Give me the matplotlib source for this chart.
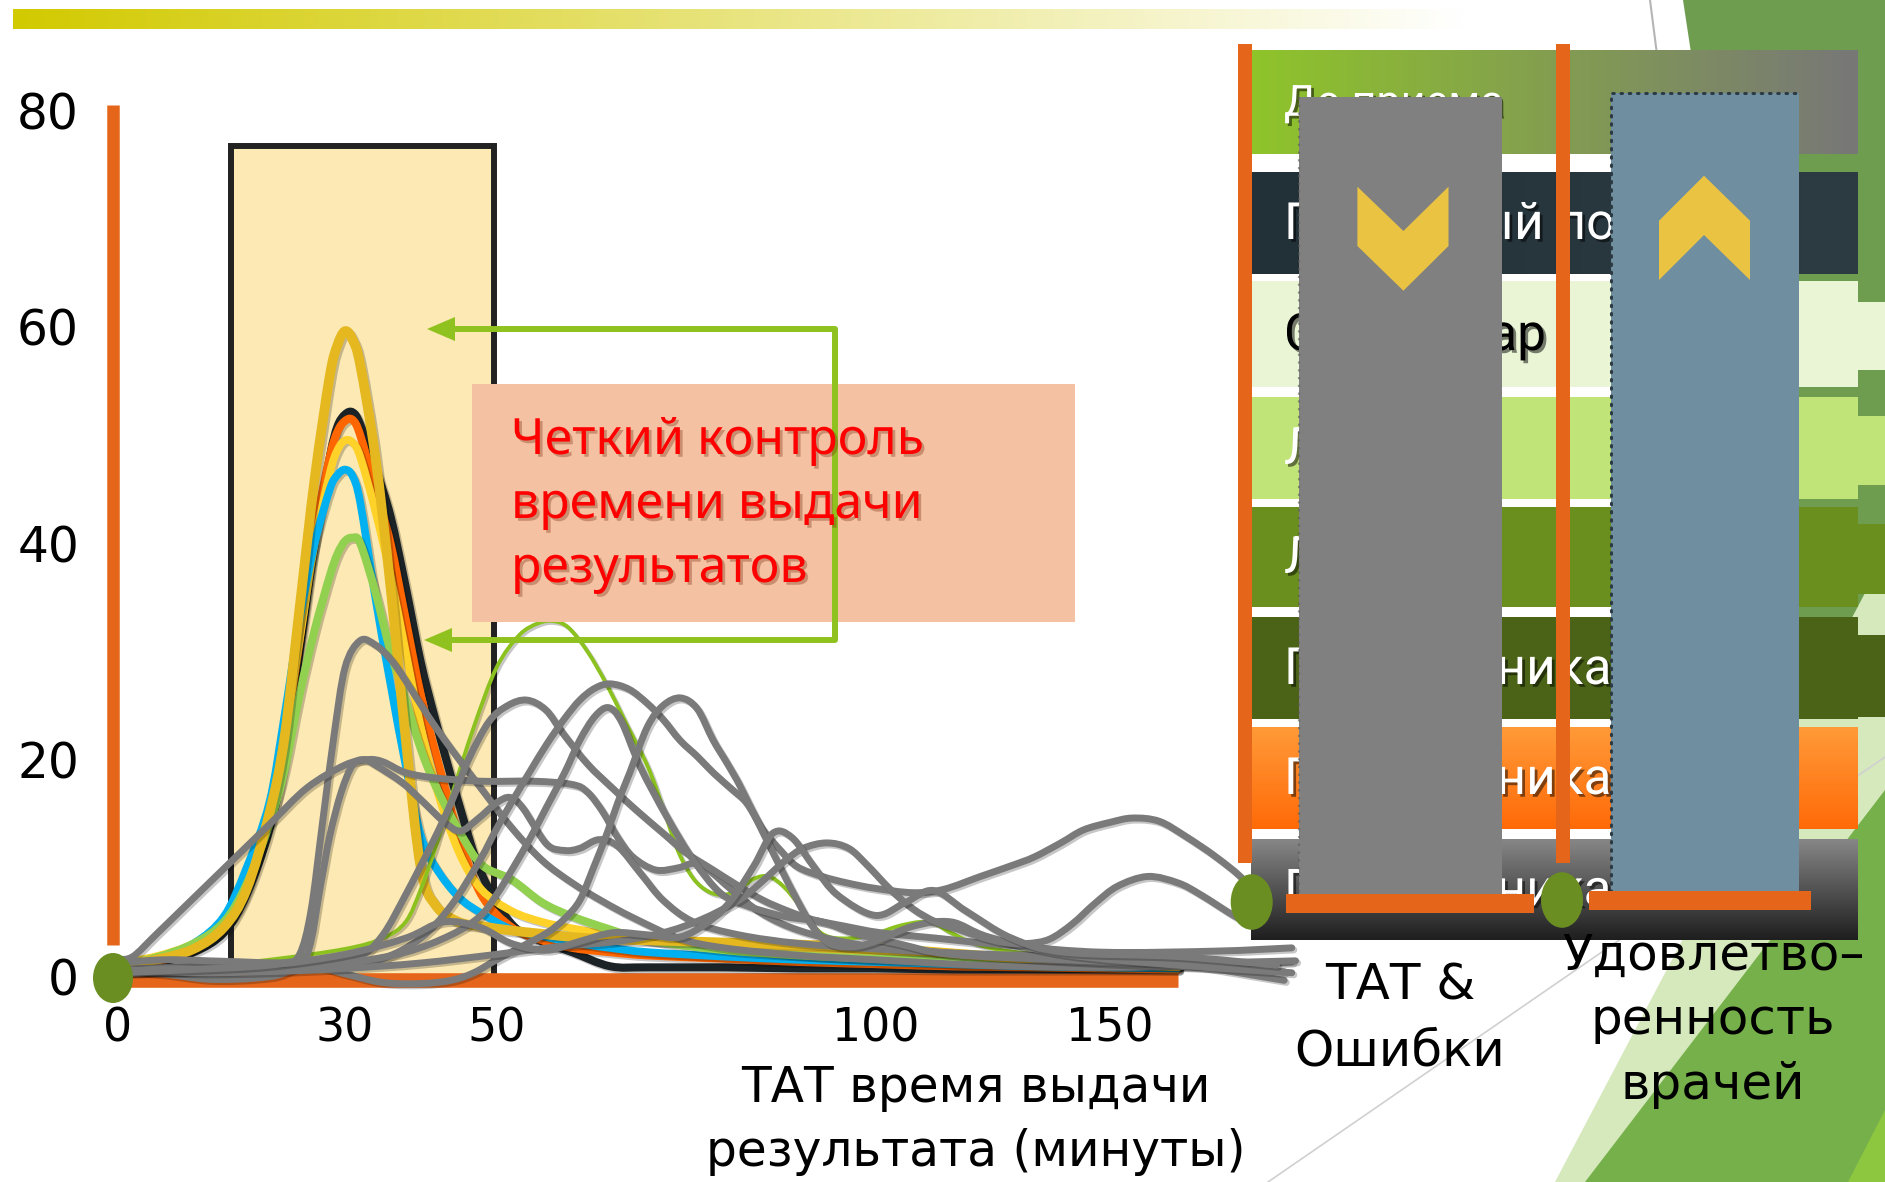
import matplotlib
matplotlib.use("Agg")
import matplotlib.pyplot as plt
import matplotlib.colors as mcolors
import matplotlib.patheffects as pe
from matplotlib.patches import Rectangle, Ellipse, Polygon, PathPatch
from matplotlib.path import Path
import numpy as np

plt.rcParams['font.family'] = ['DejaVu Sans']

# ---------------- data ----------------
y_ticks = [0, 20, 40, 60, 80]
x_tick_pos = [0, 30, 50, 100, 131]
x_tick_labels = ["0", "30", "50", "100", "150"]

target_window = (14.9, 49.7)   # minutes, highlighted TAT window
target_top = 76.7

# well controlled labs (common time grid, minutes)
tat_min = [0, 5, 10, 14, 17, 20, 22, 24, 26, 28, 29, 30, 31, 32, 34, 36, 38, 40,
           42, 45, 48, 52, 56, 60, 65, 70, 80, 90, 100, 110, 120, 130, 140]
gold_pct = [1.0, 1.5, 2.5, 4.5, 8.0, 15.0, 22.0, 34.0, 46.0, 55.5, 58.3, 59.6, 58.8, 56.5, 48.0, 36.0, 22.0, 10.0,
            6.5, 5.0, 4.6, 4.2, 3.9, 3.6, 3.4, 3.3, 3.1, 2.9, 2.6, 2.1, 1.6, 1.2, 0.9]
black_pct = [0.8, 1.2, 2.2, 4.0, 7.5, 13.5, 20.0, 30.0, 40.0, 48.0, 50.8, 51.9, 52.1, 51.0, 47.0, 42.5, 36.0, 29.0,
             23.5, 16.0, 9.5, 4.8, 3.2, 2.2, 0.9, 0.8, 0.8, 0.7, 0.7, 0.6, 0.6, 0.6, 0.6]
orange_pct = [0.7, 1.3, 2.5, 4.5, 8.5, 15.0, 21.5, 31.0, 41.0, 48.0, 50.3, 51.3, 51.4, 50.0, 45.0, 40.0, 33.0, 26.0,
              20.5, 13.0, 7.5, 4.5, 3.3, 2.6, 2.2, 1.9, 1.6, 1.3, 1.1, 0.9, 0.8, 0.7, 0.6]
yellow_pct = [1.2, 1.8, 3.0, 5.0, 9.0, 15.5, 22.0, 31.0, 40.0, 46.5, 48.6, 49.5, 49.3, 48.0, 43.0, 37.0, 30.0, 23.0,
              17.5, 11.5, 8.0, 6.0, 5.0, 4.4, 3.8, 3.3, 2.7, 2.3, 2.0, 1.7, 1.4, 1.1, 0.9]
blue_pct = [0.9, 1.5, 3.0, 5.5, 10.0, 16.0, 24.0, 33.0, 40.0, 45.0, 46.3, 46.8, 46.2, 43.8, 35.0, 27.0, 19.5, 13.0,
            10.0, 7.3, 5.8, 4.3, 3.7, 3.1, 2.6, 2.2, 1.8, 1.5, 1.3, 1.1, 0.9, 0.8, 0.7]
lgreen_pct = [1.0, 1.7, 3.0, 5.0, 8.5, 14.0, 19.0, 26.0, 32.0, 37.0, 39.0, 40.2, 40.5, 40.0, 35.5, 30.0, 25.5, 21.0,
              17.5, 13.5, 10.3, 8.9, 6.8, 5.5, 4.3, 3.3, 2.4, 1.9, 1.6, 1.4, 1.2, 1.0, 0.9]

# lab with the later peak (thin green)
late_min = [0, 10, 20, 30, 35, 38, 40, 42, 44, 47, 50, 53, 55.5, 57.5, 59.5, 62, 64.5, 67, 70, 72, 74, 76, 78,
            80, 82, 84, 86, 88, 90, 92, 94, 97, 100, 103, 106, 108, 110, 114, 120, 130, 140]
late_pct = [0.5, 0.8, 1.5, 2.5, 3.5, 5, 8, 12, 16.5, 23, 28.5, 31.5, 32.6, 32.8, 32.2, 30, 27, 23.5, 19.3, 15.5, 11.5,
            9, 7.8, 7.5, 8, 9, 9.2, 8.2, 6.5, 4.5, 3.6, 3.5, 3.9, 4.6, 5, 4.8, 4, 2.8, 2.1, 1.7, 1.5]

# uncontrolled labs (grey)
g1_min = [0, 8, 16, 22, 24, 25.5, 27, 28.5, 30, 32, 34, 36, 38, 41, 44, 48, 52, 56, 60, 64, 68, 74, 80, 90, 100,
          114, 130, 145, 155]
g1_pct = [0.3, 0.5, 0.8, 1.2, 2, 6, 14, 22, 28.5, 31, 30.6, 29.3, 27.3, 24, 21, 17.3, 13.7, 10.7, 8.6, 6.9, 5.4,
          3.5, 2.6, 1.9, 1.5, 1.0, 0.8, 1.0, 1.3]
g2_min = [0, 2, 5, 10, 15, 20, 25, 30, 33, 35, 38, 42, 48, 55, 60, 62, 64, 66, 68, 71, 74, 76, 78, 81, 85, 90, 97,
          105, 120, 140, 154]
g2_pct = [1.5, 1.8, 3.8, 7.2, 10.6, 14, 17.4, 19.5, 20, 19.8, 18.8, 18.3, 18, 18, 17.7, 17, 15.2, 12.8, 11, 9.8,
          10, 10.4, 9.8, 8, 5.8, 4.2, 3, 2.4, 1.6, 0.9, 0.4]
g3_min = [0, 6, 12, 18, 22, 25, 26.8, 28, 29.5, 31, 32.5, 34, 37.5, 40, 43, 45.2, 47.5, 50, 51.8, 53.5, 56.6, 59,
          61, 63.5, 66, 69, 72, 76, 82, 90, 100, 115, 135, 154]
g3_pct = [0.5, 0.2, -0.3, -0.2, 0.3, 2, 8.5, 13, 17, 19.5, 20, 19.5, 17.9, 16.3, 14.3, 13.4, 14.5, 16, 16.5, 15.5,
          12.2, 11.6, 11.8, 12.6, 12, 9.5, 7, 5, 3.8, 3, 2.5, 2, 1.6, -0.4]
g4_min = [0, 10, 20, 28, 32, 35, 38, 41.6, 44, 46.3, 49, 51.5, 54, 56.5, 58.8, 62, 65.4, 68.5, 72, 75, 78.6, 82,
          85.2, 88.5, 91.8, 96, 100.7, 108, 118, 130, 145, 155]
g4_pct = [0.6, 0.9, 1.2, 1.3, 1.8, 3.8, 7.5, 12.4, 16, 20, 23.5, 25, 25.5, 24.6, 22.4, 19.6, 17.3, 15.3, 13.2, 11.4,
          9.8, 8.3, 7, 6, 5.2, 4.6, 4, 3.5, 2.8, 2.2, 2.3, 2.6]
g5_min = [0, 10, 20, 30, 35, 40, 44, 47.8, 50, 52.2, 54.5, 56.7, 59, 61, 63, 65, 67.5, 69.9, 72, 74.2, 76.5, 78.6,
          81, 83, 85.2, 87.5, 89.7, 93, 96.3, 100, 105, 109, 113.9, 118, 121, 124.5, 127.5, 131, 134, 137.5, 141,
          145, 148.6, 150]
g5_pct = [0.4, 0.4, 0.6, 0.9, 1.6, 3.5, 6.5, 10.7, 13.6, 16.3, 19, 21.5, 23.8, 25.5, 26.6, 27, 26.5, 25.2, 23.7,
          21.8, 20.3, 18.8, 17.3, 16, 13.5, 11.6, 10.1, 9.2, 8.6, 8.1, 7.7, 8, 9.2, 10.2, 11, 12.3, 13.5, 14.2, 14.6,
          14.3, 12.9, 11, 8.9, 7]
g6_min = [0, 10, 20, 30, 38, 44, 47.8, 50, 52.2, 54.5, 56.6, 59, 61, 63, 64.8, 66.5, 69, 72.5, 76, 79.5, 83, 88, 93,
          97, 103, 110, 125, 140, 155.5]
g6_pct = [0.2, 0.5, 0.8, 1.2, 2.2, 3.8, 5.5, 7.5, 10, 12.8, 15.6, 18.8, 21.8, 24, 24.8, 23.5, 19.3, 14.7, 10.7, 7.7,
          6.5, 5.5, 5, 4, 3, 2, 1.5, 1.2, 1.4]
g7_min = [0, 6, 12, 20, 26, 30, 35, 40, 44, 47, 50, 53, 56.7, 59, 61, 62.8, 64.6, 66, 67.6, 69.9, 72, 74.3, 76.5,
          78.6, 80.5, 82.2, 84.8, 87.5, 89.7, 91.8, 94, 97, 100, 105, 110, 115, 125, 140, 155]
g7_pct = [1.2, 1.5, 1.4, 1.2, 0.9, 0.2, -0.6, -0.7, -0.4, 0.3, 1.5, 2.6, 4, 5.3, 7, 10, 13.2, 16, 18.8, 23, 25,
          25.7, 24.7, 21.8, 19.6, 17.5, 13.8, 10, 7, 4.5, 3, 2.7, 3.2, 4.6, 5, 3.6, 2, 1, 0.3]
g8_min = [0, 10, 20, 30, 40, 50, 58, 66, 72, 77, 82, 85, 88, 90.5, 93.6, 96.5, 99, 102, 105, 108, 111, 114, 117,
          120, 123, 126, 129, 132, 136, 140, 143, 147.3, 150]
g8_pct = [0.6, 0.3, 0.4, 0.7, 1.2, 2, 2.7, 3.2, 4, 5.2, 7, 8.7, 10.6, 11.8, 12.3, 11.8, 10.2, 8, 6.2, 5, 4.3, 3.6,
          3.1, 3, 3.4, 4.8, 6.7, 8.3, 9.2, 8.6, 7.5, 5.6, 4.6]
g9_min = [0, 10, 20, 30, 38, 43, 47.8, 52, 56.7, 61, 65.4, 70, 74.2, 78, 81, 84, 86.5, 89, 92, 95, 100, 104, 107.7,
          112, 118, 125, 140, 153]
g9_pct = [0.3, 0.6, 1, 2, 3.5, 5, 4.5, 3, 2.4, 3.2, 4, 3.8, 3.6, 5, 7, 10.2, 13.2, 12.8, 10, 7.5, 5.6, 6.8, 7.9, 6,
          3.5, 2.2, 1.8, 1.0]

panel_rows = ["До приема", "Приемный покой", "Стационар", "ЛПУ 1", "ЛПУ 2",
              "Поликлиника 1", "Поликлиника 2", "Поликлиника 3"]
callout_lines = ["Четкий контроль", "времени выдачи", "результатов"]

# ---------------- layout ----------------
W, H = 1885, 1182
X0_PX, PX_PER_MIN = 117.8, 7.574    # pixel of 0 min, pixels per minute
Y0_PX, PX_PER_PCT = 976.0, 10.82    # pixel of 0 %, pixels per %
x_lim = (-2, 175)
y_lim = (-1.5, 85)

ORANGE = '#e5661b'
GREY = '#7a7a7a'
DOT = '#6a8e22'


def gradient_rect(ax, x0, y0, x1, y1, c0, c1, vertical=False, zorder=1):
    a = np.array(mcolors.to_rgb(c0))
    b = np.array(mcolors.to_rgb(c1))
    t = np.linspace(0, 1, 256)[:, None]
    strip = a + (b - a) * t
    img = strip[:, None, :] if vertical else strip[None, :, :]
    ax.imshow(img, extent=(x0, x1, y1, y0), origin='upper', aspect='auto',
              interpolation='bilinear', zorder=zorder)


def smooth_line(ax, xs, ys, color, lw, zorder, effects):
    # Excel-style smoothed line: cubic Bezier segments through every data point
    p = np.column_stack([xs, ys]).astype(float)
    n = len(p)
    verts = [p[0]]
    codes = [Path.MOVETO]
    for i in range(n - 1):
        p0 = p[i - 1] if i > 0 else p[i]
        p3 = p[i + 2] if i + 2 < n else p[i + 1]
        c1 = p[i] + (p[i + 1] - p0) / 6.0
        c2 = p[i + 1] - (p3 - p[i]) / 6.0
        verts += [c1, c2, p[i + 1]]
        codes += [Path.CURVE4] * 3
    patch = PathPatch(Path(verts, codes), fill=False, edgecolor=color, lw=lw,
                      capstyle='round', joinstyle='round', zorder=zorder)
    patch.set_path_effects(effects)
    ax.add_patch(patch)


fig = plt.figure(figsize=(W / 100, H / 100), dpi=100)
fig.patch.set_facecolor('white')

# background decoration (pixel coordinates)
bg = fig.add_axes([0, 0, 1, 1], zorder=0)
bg.axis('off')
gradient_rect(bg, 13, 9, 1466, 29, '#d2ca00', '#ffffff')
bg.add_patch(Polygon([(1683, 0), (1885, 0), (1885, 640), (1780, 640)], color='#6f9d4f', lw=0))
bg.add_patch(Polygon([(1555, 1182), (1885, 555), (1885, 1182)], color='#d6e9bd', lw=0))
bg.add_patch(Polygon([(1585, 1182), (1885, 790), (1885, 1182)], color='#76b04a', lw=0))
bg.add_patch(Polygon([(1848, 1182), (1885, 1110), (1885, 1182)], color='#8dc63f', lw=0))
bg.plot([1268, 1885], [1182, 757], color='#d0d0d0', lw=1.2)
bg.plot([1650, 1668], [0, 140], color='#b5b5b5', lw=1.5)
bg.set_xlim(0, W)
bg.set_ylim(H, 0)

# chart axes: minutes vs percent
left_px = X0_PX + x_lim[0] * PX_PER_MIN
right_px = X0_PX + x_lim[1] * PX_PER_MIN
top_px = Y0_PX - y_lim[1] * PX_PER_PCT
bot_px = Y0_PX - y_lim[0] * PX_PER_PCT
ax = fig.add_axes([left_px / W, 1 - bot_px / H, (right_px - left_px) / W, (bot_px - top_px) / H], zorder=1)
ax.patch.set_alpha(0)
for s in ax.spines.values():
    s.set_visible(False)
ax.set_xlim(*x_lim)
ax.set_ylim(*y_lim)

ax.add_patch(Rectangle((target_window[0], -0.6), target_window[1] - target_window[0], target_top + 0.6,
                       facecolor='#fde9b3', edgecolor='#222222', lw=4.3, zorder=1))
ax.plot([-0.58, -0.58], [2.9, 80.5], color=ORANGE, lw=9, solid_capstyle='butt', zorder=2)
ax.plot([0.3, 140], [-0.4, -0.4], color=ORANGE, lw=10.5, solid_capstyle='butt', zorder=2)

shadow = [pe.SimpleLineShadow(offset=(1.5, -1.5), shadow_color='k', alpha=0.22), pe.Normal()]
for vals, col, lw in [(black_pct, '#1b2327', 5.8), (orange_pct, '#ff6600', 5.8),
                      (yellow_pct, '#ffd22a', 5.6), (blue_pct, '#00b0f0', 5.6),
                      (lgreen_pct, '#92d050', 5.8), (gold_pct, '#e5b820', 7.0)]:
    smooth_line(ax, tat_min, vals, col, lw, 3, shadow)
smooth_line(ax, late_min, late_pct, '#8cc21f', 2.8, 3, shadow)

for xs, ys in [(g1_min, g1_pct), (g2_min, g2_pct), (g3_min, g3_pct), (g4_min, g4_pct), (g5_min, g5_pct),
               (g6_min, g6_pct), (g7_min, g7_pct), (g8_min, g8_pct), (g9_min, g9_pct)]:
    smooth_line(ax, xs, ys, GREY, 5, 4, shadow)

ax.set_yticks(y_ticks)
ax.set_yticklabels([str(v) for v in y_ticks], fontsize=35)
ax.set_xticks(x_tick_pos)
ax.set_xticklabels(x_tick_labels, fontsize=33)
ax.tick_params(axis='y', length=0, pad=17)
ax.tick_params(axis='x', length=0, pad=10)

# overlay (pixel coordinates): callout, panel, captions
ov = fig.add_axes([0, 0, 1, 1], zorder=2)
ov.axis('off')

ARROW = '#8fc21f'
ov.plot([452, 835, 835, 452], [329, 329, 640, 640], color=ARROW, lw=4.3,
        solid_joinstyle='round', solid_capstyle='round')
ov.add_patch(Polygon([(427, 329), (455, 317), (455, 341)], color=ARROW, lw=0))
ov.add_patch(Polygon([(424, 640), (452, 628), (452, 652)], color=ARROW, lw=0))

ov.add_patch(Rectangle((471.6, 384), 603.4, 237.7, color='#f4c2a2', lw=0))
txt_shadow = [pe.withSimplePatchShadow(offset=(2, -2), shadow_rgbFace='#7a2a10', alpha=0.35)]
for i, line in enumerate(callout_lines):
    ov.text(511, 441 + 64 * i, line, color='#ff0000', fontsize=36, family=['Noto Sans', 'DejaVu Sans'],
            ha='left', va='center', path_effects=txt_shadow)

# right panel rows
px0, px1 = 1251, 1858
row_spans = [(50.5, 154), (172, 274), (281, 387), (397, 499), (507, 607), (617, 719), (727, 829), (839, 940)]
ext_cols = ['#e9f5d5', '#c1e478', '#6a8f1e', '#4a6316']
for (e0, e1), c in zip([(302, 370), (416, 485), (524, 594), (635, 717)], ext_cols):
    ov.add_patch(Rectangle((px1, e0), W - px1, e1 - e0, color=c, lw=0))

gradient_rect(ov, px0, row_spans[0][0], px1, row_spans[0][1], '#8fc42a', '#777777', zorder=1)
gradient_rect(ov, px0, row_spans[1][0], px1, row_spans[1][1], '#223038', '#2d3b43', zorder=1)
for (y0, y1), c in zip(row_spans[2:6], ['#e9f5d5', '#c1e478', '#6a8f1e', '#4a6316']):
    ov.add_patch(Rectangle((px0, y0), px1 - px0, y1 - y0, color=c, lw=0, zorder=1))
gradient_rect(ov, px0, row_spans[6][0], px1, row_spans[6][1], '#ff9a38', '#ff6a08', vertical=True, zorder=1)
gradient_rect(ov, px0, row_spans[7][0], px1, row_spans[7][1], '#878787', '#1e1e1e', vertical=True, zorder=1)

row_shadow = [pe.withSimplePatchShadow(offset=(2, -2), shadow_rgbFace='black', alpha=0.5)]
for k, ((y0, y1), label) in enumerate(zip(row_spans, panel_rows)):
    tc = 'black' if label == "Стационар" else 'white'
    ov.text(1284, (y0 + y1) / 2 + 2, label, color=tc, fontsize=31 if k == 0 else 37,
            family=['Roboto', 'DejaVu Sans'], ha='left', va='center', path_effects=row_shadow, zorder=2)

# TAT & errors column (down) and satisfaction column (up)
ov.add_patch(Rectangle((1299, 96.7), 202.5, 813, color='#808080', lw=0, zorder=3))
ov.plot([1299, 1299], [97, 905], color='#5a5a5a', lw=1.6, ls=(0, (1, 2.5)), alpha=0.6, zorder=3)
ov.add_patch(Rectangle((1611, 93), 188, 799, color='#6f8fa0', lw=0, zorder=3))
ov.plot([1611, 1611, 1799], [892, 93, 93], color='#2c3a44', lw=2.2, ls=(0, (0.5, 2.2)),
        dash_capstyle='round', zorder=3)
ov.add_patch(Polygon([(1357.4, 186.7), (1403.4, 231), (1448.5, 186.7), (1448.5, 246), (1403.4, 290.7),
                      (1357.4, 246)], color='#eac343', lw=0, zorder=4))
ov.add_patch(Polygon([(1659, 280), (1659, 220.7), (1704, 175.7), (1750, 220.7), (1750, 280), (1704, 235)],
                     color='#eac343', lw=0, zorder=4))

ov.add_patch(Rectangle((1238, 44), 14, 819, color=ORANGE, lw=0, zorder=4))
ov.add_patch(Rectangle((1555.5, 44), 14, 819, color=ORANGE, lw=0, zorder=4))
ov.add_patch(Rectangle((1286, 893.5), 248, 19.5, color=ORANGE, lw=0, zorder=4))
ov.add_patch(Rectangle((1589, 891), 222, 19, color=ORANGE, lw=0, zorder=4))

ov.add_patch(Ellipse((113, 978), 40, 50, color=DOT, lw=0, zorder=5))
ov.add_patch(Ellipse((1251.7, 902), 42, 55.6, color=DOT, lw=0, zorder=5))
ov.add_patch(Ellipse((1562, 900), 42, 55.6, color=DOT, lw=0, zorder=5))

ov.text(976, 1088, "ТАТ время выдачи", fontsize=35, ha='center', va='center', color='black')
ov.text(976, 1152, "результата (минуты)", fontsize=35, ha='center', va='center', color='black')
ov.text(1400, 985, "ТАТ &", fontsize=36, ha='center', va='center', color='black')
ov.text(1400, 1052, "Ошибки", fontsize=36, ha='center', va='center', color='black')
ov.text(1713, 956, "Удовлетво–", fontsize=36, ha='center', va='center', color='black')
ov.text(1713, 1020, "ренность", fontsize=36, ha='center', va='center', color='black')
ov.text(1713, 1085, "врачей", fontsize=36, ha='center', va='center', color='black')

ov.set_xlim(0, W)
ov.set_ylim(H, 0)

fig.savefig('out.png', dpi=100)
